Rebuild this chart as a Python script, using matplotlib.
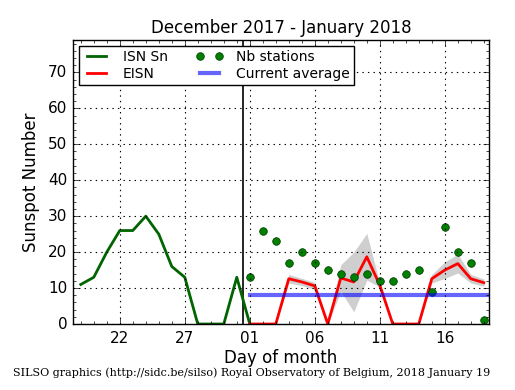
import matplotlib
matplotlib.use("Agg")
import matplotlib.pyplot as plt
from matplotlib.ticker import MultipleLocator, FixedLocator

# days counted from 1 December 2017 (32 = 1 January 2018)
isn_days = [19, 20, 21, 22, 23, 24, 25, 26, 27, 28, 29, 30, 31, 32]
isn_sn = [11, 13, 20, 26, 26, 30, 25, 16, 13, 0, 0, 0, 13, 0]

jan_days = [32, 33, 34, 35, 36, 37, 38, 39, 40, 41, 42, 43, 44, 45, 46, 47, 48, 49, 50]
eisn = [0, 0, 0, 12.6, 11.7, 10.6, 0, 12.8, 11.7, 18.7, 10.8, 0, 0, 0, 12.6, 15.0, 16.8, 12.6, 11.5]
eisn_err = [0, 0, 0, 1.2, 1.0, 1.0, 0, 3.7, 8.3, 6.5, 0.5, 0, 0, 0, 1.2, 2.3, 2.6, 1.2, 1.0]
nb_stations = [13, 26, 23, 17, 20, 17, 15, 14, 13, 14, 12, 12, 14, 15, 9, 27, 20, 17, 1]

current_average = 8.1
tick_days = [22, 27, 32, 37, 42, 47]
tick_labels = ["22", "27", "01", "06", "11", "16"]

plt.style.use("classic")
fig = plt.figure(figsize=(5.15, 3.9), facecolor="white")
ax = fig.add_axes([0.1417, 0.1692, 0.8078, 0.7282])

lower = [v - e for v, e in zip(eisn, eisn_err)]
upper = [v + e for v, e in zip(eisn, eisn_err)]
ax.fill_between(jan_days, lower, upper, color="#a0a0a0", alpha=0.5, linewidth=0)

ax.axvline(31.5, color="black", linewidth=1.2)
l1, = ax.plot(isn_days, isn_sn, color="darkgreen", linewidth=2, label="ISN Sn")
l2, = ax.plot(jan_days, eisn, color="red", linewidth=2, label="EISN")
l3, = ax.plot(jan_days, nb_stations, linestyle="none", marker="o", markersize=5.5,
              markerfacecolor="green", markeredgecolor="#003300", label="Nb stations")
l4, = ax.plot([jan_days[0], 50.4], [current_average, current_average], color="blue",
              alpha=0.6, linewidth=3, label="Current average")

ax.set_xlim(18.4, 50.4)
ax.set_ylim(0, 79)
ax.xaxis.set_major_locator(FixedLocator(tick_days))
ax.set_xticklabels(tick_labels)
ax.xaxis.set_minor_locator(MultipleLocator(1))
ax.yaxis.set_major_locator(MultipleLocator(10))
ax.yaxis.set_minor_locator(MultipleLocator(2))
ax.tick_params(labelsize=11)
ax.tick_params(axis="x", pad=5)
ax.grid(True, color="black", linestyle=":", linewidth=0.8)

ax.set_title("December 2017 - January 2018", fontsize=12)
ax.set_xlabel("Day of month", fontsize=12, labelpad=2)
ax.set_ylabel("Sunspot Number", fontsize=12, labelpad=6)

ax.legend(handles=[l1, l2, l3, l4], loc="upper left", ncol=2, fontsize=10,
          numpoints=2, borderaxespad=0.4, handletextpad=0.9, columnspacing=2.0,
          labelspacing=0.2, borderpad=0.3)

fig.text(0.025, 0.035, "SILSO graphics (http://sidc.be/silso) Royal Observatory of Belgium, 2018 January 19",
         family="DejaVu Serif", fontsize=8)

fig.savefig("out.png", dpi=100, facecolor="white")
